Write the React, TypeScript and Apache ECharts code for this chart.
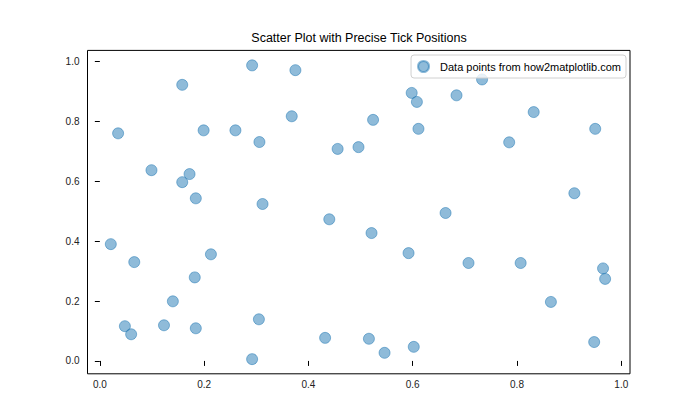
import React, { useEffect, useRef } from "react";
import * as echarts from "echarts";

const xValues = [
  0.035, 0.158, 0.292, 0.375, 0.368, 0.199, 0.260, 0.306, 0.456, 0.496,
  0.099, 0.158, 0.172, 0.184, 0.312,
  0.733, 0.598, 0.608, 0.684, 0.524, 0.611, 0.832, 0.950, 0.785, 0.910, 0.663,
  0.440, 0.021, 0.066, 0.213, 0.182, 0.140, 0.048, 0.060, 0.123, 0.184, 0.305, 0.292, 0.432,
  0.521, 0.592, 0.707, 0.807, 0.965, 0.969, 0.865, 0.516, 0.546, 0.602, 0.948,
];
const yValues = [
  0.760, 0.922, 0.987, 0.971, 0.817, 0.770, 0.770, 0.731, 0.708, 0.714,
  0.637, 0.597, 0.624, 0.543, 0.524,
  0.940, 0.895, 0.865, 0.887, 0.805, 0.775, 0.831, 0.775, 0.730, 0.560, 0.494,
  0.473, 0.390, 0.330, 0.356, 0.279, 0.199, 0.116, 0.089, 0.119, 0.109, 0.139, 0.006, 0.077,
  0.427, 0.360, 0.327, 0.327, 0.309, 0.274, 0.197, 0.074, 0.027, 0.047, 0.063,
];
const xTicks = [0.0, 0.2, 0.4, 0.6, 0.8, 1.0];
const yTicks = [0.0, 0.2, 0.4, 0.6, 0.8, 1.0];
const seriesName = "Data points from how2matplotlib.com";
const titleText = "Scatter Plot with Precise Tick Positions";

const FONT = "Liberation Sans";

export default function App() {
  const ref = useRef<HTMLDivElement>(null);
  useEffect(() => {
    if (!ref.current) return;
    const chart = echarts.init(ref.current, null, { renderer: "svg" });
    const data = xValues.map((x, i) => [x, yValues[i]]);
    chart.setOption({
      animation: false,
      backgroundColor: "#ffffff",
      title: {
        text: titleText,
        left: 359,
        textAlign: "center",
        top: 31,
        padding: 0,
        textStyle: { fontFamily: FONT, fontSize: 12.5, fontWeight: "normal", color: "#000" },
      },
      legend: {
        right: 74,
        top: 55,
        orient: "vertical",
        padding: [5, 5, 5, 6],
        borderColor: "#d0d0d0",
        borderWidth: 1,
        borderRadius: 3,
        backgroundColor: "rgba(255,255,255,0.8)",
        itemWidth: 23,
        itemHeight: 11,
        icon: "circle",
        textStyle: { fontFamily: FONT, fontSize: 11, color: "#000" },
        data: [seriesName],
      },
      grid: {
        left: 87.5,
        right: 70,
        top: 50.4,
        bottom: 46.2,
        show: true,
        borderColor: "#000",
        borderWidth: 1,
        backgroundColor: "transparent",
      },
      xAxis: {
        type: "value",
        min: -0.0237,
        max: 1.0167,
        splitLine: { show: false },
        axisLine: { show: false },
        axisTick: { show: true, length: 5, lineStyle: { color: "#000" }, customValues: xTicks },
        axisLabel: {
          customValues: xTicks,
          formatter: (v: number) => v.toFixed(1),
          fontFamily: FONT,
          fontSize: 10,
          color: "#222",
          margin: 6,
        },
      },
      yAxis: {
        type: "value",
        min: -0.043,
        max: 1.037,
        splitLine: { show: false },
        axisLine: { show: false },
        axisTick: { show: true, length: 5, lineStyle: { color: "#000" }, customValues: yTicks },
        axisLabel: {
          customValues: yTicks,
          formatter: (v: number) => v.toFixed(1),
          fontFamily: FONT,
          fontSize: 10,
          color: "#222",
          margin: 8,
        },
      },
      series: [
        {
          name: seriesName,
          type: "scatter",
          data,
          symbol: "circle",
          symbolSize: 11,
          itemStyle: {
            color: "rgba(31,119,180,0.5)",
            borderColor: "rgba(31,119,180,0.5)",
            borderWidth: 1,
            opacity: 1,
          },
        },
      ],
    });
    return () => chart.dispose();
  }, []);
  return (
    <div
      ref={ref}
      style={{ position: "absolute", left: 0, top: 0, width: 700, height: 420 }}
    />
  );
}
